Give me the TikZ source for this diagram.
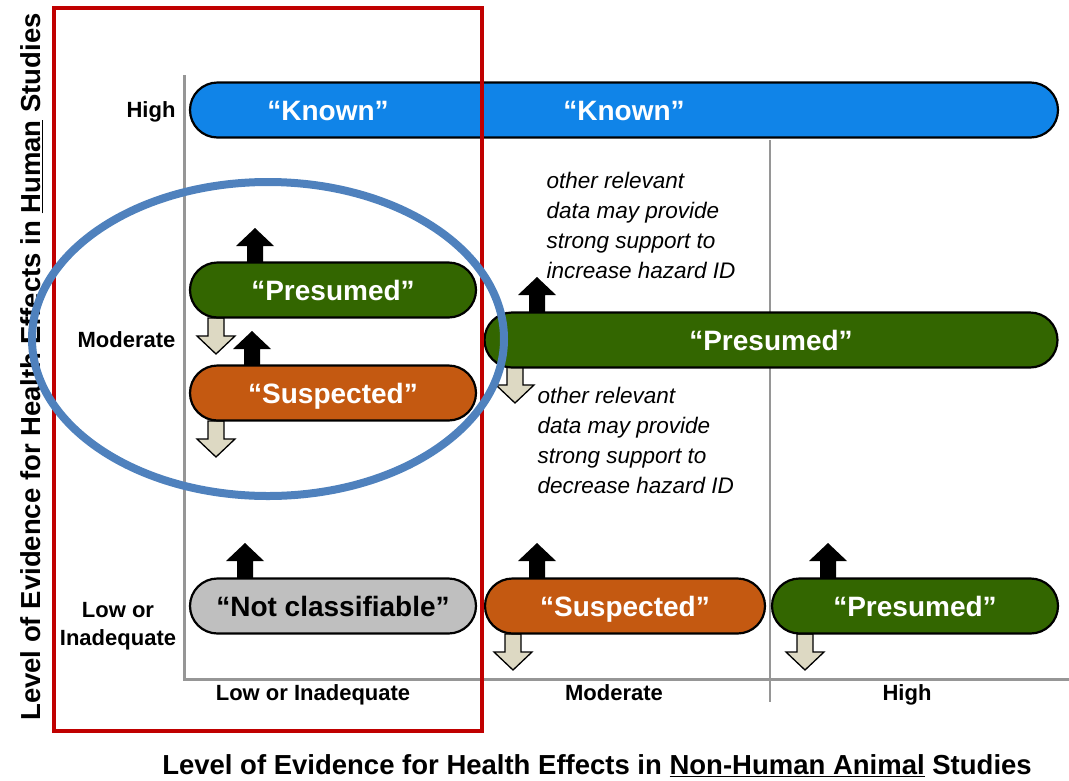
\documentclass[tikz,border=0pt]{standalone}
\usepackage{fontspec}
\setmainfont{Liberation Sans}
\usetikzlibrary{shapes.misc,calc}
\definecolor{kblue}{RGB}{16,132,232}
\definecolor{pgreen}{RGB}{51,102,0}
\definecolor{sorange}{RGB}{196,89,17}
\definecolor{ngray}{RGB}{191,191,191}
\definecolor{beige}{RGB}{221,217,195}
\definecolor{eblue}{RGB}{79,129,189}
\definecolor{rred}{RGB}{192,0,0}
\definecolor{axgray}{RGB}{150,150,150}
\tikzset{
  bar/.style={rounded rectangle, draw=black, line width=2.2pt, minimum height=55pt, inner sep=0pt},
  bartext/.style={text=white, font=\bfseries\fontsize{28}{30}\selectfont, text height=20pt, text depth=0pt, inner sep=0pt},
  axlab/.style={font=\bfseries\fontsize{22}{28}\selectfont, text height=15.8pt, text depth=0pt},
  axlabml/.style={font=\bfseries\fontsize{22}{28}\selectfont},
  note/.style={font=\itshape\fontsize{22.5}{30}\selectfont, align=left, anchor=north west},
  title/.style={font=\bfseries\fontsize{27.5}{30}\selectfont, text height=19.7pt, text depth=0pt},
  uparrow/.style={fill=black},
  downarrow/.style={fill=beige, draw=black, line width=1.3pt, line join=miter},
}
\newcommand{\myup}[1]{\fill[uparrow] #1 ++(-8,0) -- ++(0,-17) -- ++(-11,0) -- ++(19,-18) -- ++(19,18) -- ++(-11,0) -- ++(0,17) -- cycle;}
\newcommand{\mydown}[1]{\draw[downarrow] #1 ++(-8,0) -- ++(0,18) -- ++(-11,0) -- ++(19,18) -- ++(19,-18) -- ++(-11,0) -- ++(0,-18) -- cycle;}
\begin{document}
\begin{tikzpicture}[x=1pt,y=-1pt]
\useasboundingbox (0,0) rectangle (1069,780);
% axes
\draw[axgray, line width=3pt] (184,75) -- (184,679) -- (1069,679);
\draw[axgray, line width=1.2pt] (770,140) -- (770,702);
% arrows (behind bars)
\myup{(255,263)}
\mydown{(216,318)}
\myup{(252,366)}
\mydown{(216,421)}
\myup{(537,312)}
\mydown{(515,367)}
\myup{(245,578)}
\myup{(537,578)}
\mydown{(513,634)}
\myup{(828,578)}
\mydown{(805,634)}
% bars
\node[bar, fill=kblue, minimum width=868pt] (known) at (624,110) {};
\node[bartext] (known1) at (328,110) {“Known”};
\node[bartext] (known2) at (624,110) {“Known”};
\node[bar, fill=pgreen, minimum width=286pt] (presL) at (333,290) {};
\node[bartext] at (presL) {“Presumed”};
\node[bar, fill=sorange, minimum width=286pt] (suspL) at (333,393) {};
\node[bartext] at (suspL) {“Suspected”};
\node[bar, fill=pgreen, minimum width=573pt] (presM) at (771,340) {};
\node[bartext] at (presM) {“Presumed”};
\node[bar, fill=ngray, minimum width=286pt] (notc) at (333,606) {};
\node[bartext, text=black] at (notc) {“Not classifiable”};
\node[bar, fill=sorange, minimum width=280pt] (suspB) at (625,606) {};
\node[bartext] at (suspB) {“Suspected”};
\node[bar, fill=pgreen, minimum width=286pt] (presB) at (915,606) {};
\node[bartext] at (presB) {“Presumed”};
% notes
\node[note] (n1) at (543,169) {other relevant\\data may provide\\strong support to\\increase hazard ID};
\node[note] (n2) at (534,384) {other relevant\\data may provide\\strong support to\\decrease hazard ID};
% axis labels
\node[axlab, anchor=east] (yh) at (179,110) {High};
\node[axlab, anchor=east] (ym) at (179,340) {Moderate};
\node[axlabml, align=center] (yl) at (118,626) {Low or\\Inadequate};
\node[axlab] (xl) at (313,693) {Low or Inadequate};
\node[axlab] (xm) at (614,693) {Moderate};
\node[axlab] (xh) at (907,693) {High};
% titles
\node[title] (tx) at (597,765) {Level of Evidence for Health Effects in \underline{Non-Human Animal} Studies};
\node[title, rotate=90] (ty) at (31,367) {Level of Evidence for Health Effects in \underline{Human} Studies};
% highlight
\draw[rred, line width=4pt] (54,8) rectangle (482,731);
\draw[eblue, line width=8pt] (268,339) ellipse [x radius=236, y radius=157];
\end{tikzpicture}
\end{document}
